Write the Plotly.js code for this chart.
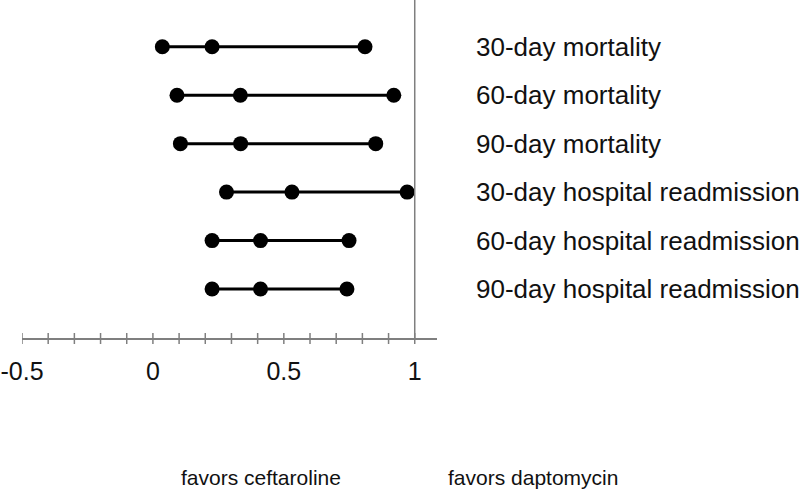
<!DOCTYPE html>
<html>
<head>
<meta charset="utf-8">
<script src="https://cdn.plot.ly/plotly-3.0.1.min.js"></script>
<style>html,body{margin:0;padding:0;background:#fff;}#chart{width:800px;height:494px;}</style>
</head>
<body>
<div id="chart"></div>
<script>
var outcomes = ["30-day mortality","60-day mortality","90-day mortality","30-day hospital readmission","60-day hospital readmission","90-day hospital readmission"];
var rowPos = [1,2,3,4,5,6];
var lowerCI = [0.036,0.092,0.105,0.281,0.226,0.226];
var estimate = [0.226,0.334,0.335,0.531,0.411,0.411];
var upperCI = [0.810,0.920,0.851,0.971,0.749,0.741];
var xTickVals = [-0.5,-0.4,-0.3,-0.2,-0.1,0,0.1,0.2,0.3,0.4,0.5,0.6,0.7,0.8,0.9,1];
var xTickText = ["-0.5","","","","","0","","","","","0.5","","","","","1"];
var favorLeft = "favors ceftaroline";
var favorRight = "favors daptomycin";

var traces = outcomes.map(function(name,i){
  return {
    type:'scatter', mode:'lines+markers',
    x:[lowerCI[i], estimate[i], upperCI[i]],
    y:[rowPos[i], rowPos[i], rowPos[i]],
    line:{color:'#000', width:3},
    marker:{color:'#000', size:15},
    hoverinfo:'x', showlegend:false, cliponaxis:false
  };
});

var AX = '#7f7f7f';
// tick marks crossing the axis line (both above and below)
var tickShapes = xTickVals.map(function(v){
  return {type:'line', xref:'x', yref:'paper', ysizemode:'pixel', yanchor:0,
    x0:v, x1:v, y0:-6, y1:5, line:{color:AX, width:1.5}};
});

var F = 'Liberation Sans, Arial, sans-serif';
var layout = {
  width:800, height:494,
  margin:{l:22, r:363, t:0, b:156},
  paper_bgcolor:'#fff', plot_bgcolor:'#fff',
  showlegend:false,
  xaxis:{range:[-0.5,1.085], tickmode:'array', tickvals:xTickVals, ticktext:xTickText,
    ticks:'', showline:true, linecolor:AX, linewidth:1.5,
    showgrid:false, zeroline:false, ticklabelstandoff:10,
    tickfont:{family:F, size:25, color:'#111'}},
  yaxis:{range:[7.01,0.036], tickmode:'array', tickvals:rowPos, ticktext:outcomes, side:'right',
    ticks:'', showline:false, showgrid:false, zeroline:false, ticklabelstandoff:38,
    tickfont:{family:F, size:26, color:'#111'}},
  shapes:[{type:'line', xref:'x', yref:'paper', x0:1, x1:1, y0:0, y1:1, line:{color:AX, width:1.5}}].concat(tickShapes),
  annotations:[
    {text:favorLeft, xref:'paper', yref:'paper', x:(261-22)/415, y:(494-477-156)/338, xanchor:'center', yanchor:'middle', showarrow:false, font:{family:F, size:21, color:'#111'}},
    {text:favorRight, xref:'paper', yref:'paper', x:(533-22)/415, y:(494-477-156)/338, xanchor:'center', yanchor:'middle', showarrow:false, font:{family:F, size:21, color:'#111'}}
  ]
};
Plotly.newPlot('chart', traces, layout, {staticPlot:true, displayModeBar:false});
</script>
</body>
</html>
